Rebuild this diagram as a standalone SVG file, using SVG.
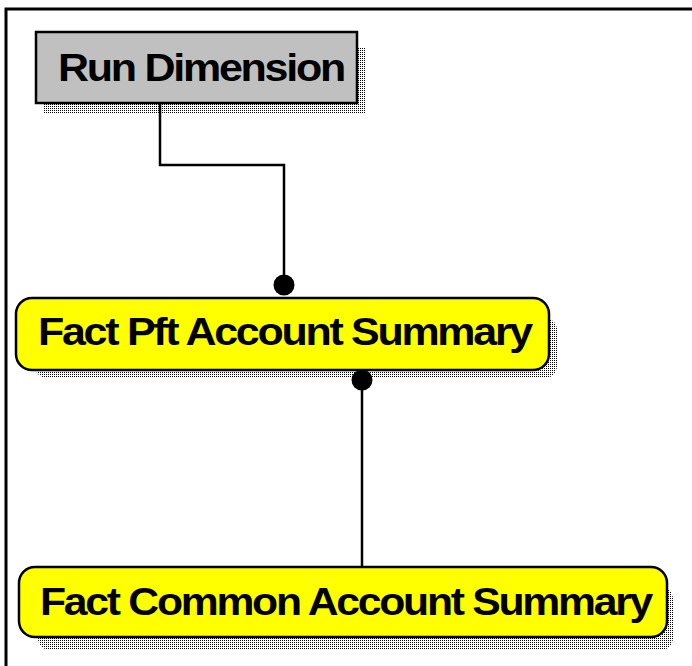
<svg xmlns="http://www.w3.org/2000/svg" width="692" height="666" viewBox="0 0 692 666">
<style>
.lbl{font-family:"Liberation Sans",Arial,sans-serif;font-weight:bold;font-size:38px;fill:#000;letter-spacing:-2px}
.edge{fill:none;stroke:#000;stroke-width:2.5}
.dot{fill:#000}
.shadow{fill:url(#dots)}
.ent{fill:#ffff00;stroke:#000;stroke-width:2.5}
.dim{fill:#c0c0c0;stroke:#000;stroke-width:2.5}
</style>
<defs>
<pattern id="dots" width="2" height="2" patternUnits="userSpaceOnUse">
<rect x="0" y="0" width="1" height="1" fill="#000"/>
</pattern>
</defs>
<rect x="0" y="0" width="692" height="666" fill="#fff"/>
<path d="M6,666 V9 H692" fill="none" stroke="#000" stroke-width="3"/>
<g id="connectors">
<path class="edge" d="M160,103 V165 H284 V282"/>
<circle class="dot" cx="284" cy="285" r="10.5"/>
<path class="edge" d="M362,380 V567"/>
<circle class="dot" cx="362" cy="380" r="10.5"/>
</g>
<g id="run-dimension">
<rect class="shadow" x="44" y="48" width="321" height="65"/>
<rect class="dim" x="36" y="32" width="321" height="71"/>
<text class="lbl" x="58" y="81" textLength="286" lengthAdjust="spacingAndGlyphs">Run Dimension</text>
</g>
<g id="fact-pft-account-summary">
<rect class="shadow" x="35" y="318" width="522" height="60" rx="12"/>
<rect class="ent" x="16" y="298" width="533" height="72" rx="16"/>
<text class="lbl" x="38" y="345" textLength="493" lengthAdjust="spacingAndGlyphs">Fact Pft Account Summary</text>
</g>
<g id="fact-common-account-summary">
<rect class="shadow" x="38" y="587" width="635" height="63" rx="12"/>
<rect class="ent" x="19" y="567" width="648" height="70" rx="16"/>
<text class="lbl" x="40" y="615" textLength="611" lengthAdjust="spacingAndGlyphs">Fact Common Account Summary</text>
</g>
</svg>
